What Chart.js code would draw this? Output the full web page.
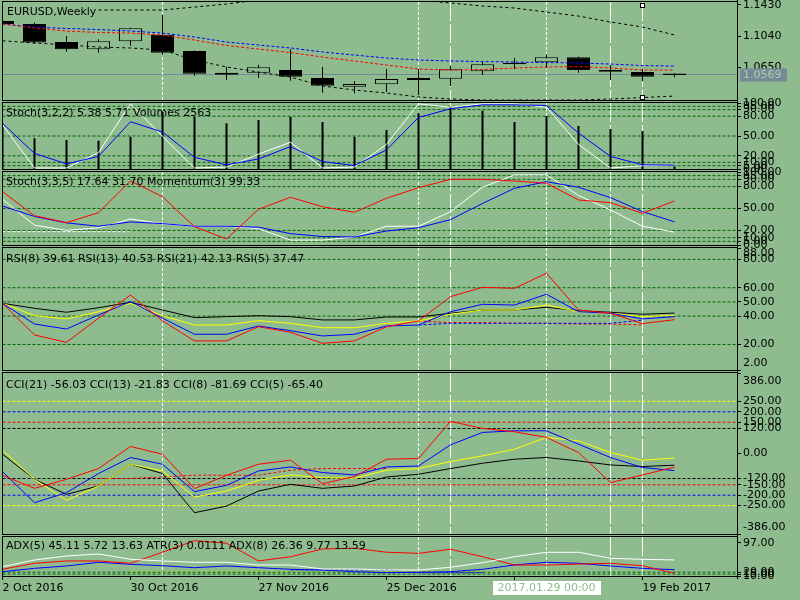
<!DOCTYPE html>
<html><head><meta charset="utf-8">
<script src="https://cdn.jsdelivr.net/npm/chart.js@4.4.1/dist/chart.umd.min.js"></script>
<style>
html,body{margin:0;padding:0;width:800px;height:600px;overflow:hidden;background:#8FBC8F;}
canvas{position:absolute;left:0;}
</style></head><body>
<script>
// ---------------- DATA ----------------
const dates = ['2 Oct 2016','9 Oct 2016','16 Oct 2016','23 Oct 2016','30 Oct 2016','6 Nov 2016','13 Nov 2016','20 Nov 2016','27 Nov 2016','4 Dec 2016','11 Dec 2016','18 Dec 2016','25 Dec 2016','1 Jan 2017','8 Jan 2017','15 Jan 2017','22 Jan 2017','29 Jan 2017','5 Feb 2017','12 Feb 2017','19 Feb 2017','26 Feb 2017'];
const xTickIdx = [0,4,8,12,16,20];

const opens  = [1.1227,1.1190,1.0965,1.0874,1.0974,1.1056,1.0853,1.0583,1.0583,1.0616,1.0517,1.0408,1.0438,1.0517,1.0508,1.0600,1.0687,1.0712,1.0775,1.0616,1.0591,1.0555];
const highs  = [1.1239,1.1206,1.1040,1.0999,1.1143,1.1305,1.0860,1.0657,1.0682,1.0874,1.0654,1.0479,1.0629,1.0633,1.0666,1.0716,1.0762,1.0812,1.0782,1.0675,1.0633,1.0579];
const lows   = [1.1177,1.0944,1.0844,1.0832,1.0919,1.0807,1.0545,1.0492,1.0517,1.0483,1.0334,1.0326,1.0342,1.0305,1.0417,1.0554,1.0629,1.0638,1.0583,1.0492,1.0476,1.0525];
const closes = [1.1190,1.0959,1.0874,1.0974,1.1136,1.0832,1.0570,1.0558,1.0650,1.0533,1.0421,1.0442,1.0504,1.0492,1.0625,1.0687,1.0695,1.0775,1.0616,1.0595,1.0533,1.0569];
const maBlue = [1.1190,1.1152,1.1134,1.1121,1.1102,1.1077,1.1028,1.0965,1.0928,1.0891,1.0841,1.0803,1.0766,1.0741,1.0729,1.0722,1.0716,1.0710,1.0704,1.0691,1.0672,1.0666];
const maRed  = [1.1190,1.1140,1.1102,1.1084,1.1077,1.1052,1.0990,1.0922,1.0878,1.0834,1.0778,1.0729,1.0679,1.0629,1.0616,1.0623,1.0641,1.0654,1.0660,1.0641,1.0616,1.0616];
const bandUpper = [null,null,null,1.1364,1.1364,1.1364,1.1401,1.1439,1.1489,1.1526,1.1526,1.1526,1.1514,1.1489,1.1451,1.1414,1.1389,1.1339,1.1289,1.1215,1.1152,1.1053];
const bandLower = [1.0981,1.0953,1.0928,1.0903,1.0891,1.0866,1.0741,1.0654,1.0591,1.0529,1.0417,1.0367,1.0330,1.0280,1.0255,1.0243,1.0243,1.0243,1.0243,1.0255,1.0273,1.0292];
const priceTicks = [1.1430,1.1040,1.0650];
const bidPrice = 1.0569;

const stoch322Blue  = [69.2,23.6,7.8,19.1,71.6,56.0,17.7,6.3,15.2,33.9,11.2,5.3,28.9,78.1,91.3,97.2,97.2,96.2,54.5,19.1,6.3,5.71];
const stoch322White = [66.7,1.5,1.5,25.0,98.7,49.5,1.5,2.9,22.5,40.6,1.5,2.9,37.3,98.7,93.7,98.7,98.7,93.7,37.3,1.5,4.9,5.38];
const volumes = [45000,32600,30800,30000,34300,60500,55500,48500,52000,55500,49900,34300,41400,59100,66100,61800,49900,56200,45600,42400,40300,2563];

const stoch335Blue  = [53.3,39.1,30.3,25.7,31.6,29.3,25.7,25.7,24.4,15.6,11.6,11.1,19.1,23.6,34.7,56.9,77.7,86.7,79.1,64.9,45.7,31.70];
const stoch335White = [62.7,27.1,20.0,23.6,35.6,29.3,25.7,25.7,22.3,6.7,6.7,11.1,25.7,25.7,45.7,79.1,96.0,96.0,68.0,48.0,25.7,17.64];
const momentum = [100.43,97.57,96.74,97.93,101.70,99.83,96.26,94.80,98.33,99.76,98.64,97.97,99.64,100.90,101.90,101.90,101.70,101.43,99.44,99.12,97.85,99.33];
const stochHLine = [{x:0,y:18.3},{x:3.95,y:18.3}];
const stochLevels = [95,90,80,50,20,10,5];
const stochTicks = [100,95,90,80,50,20,10,5,0];

const rsi5  = [49.0,26.7,21.5,38.5,54.9,36.6,22.5,22.5,32.5,28.6,20.8,22.5,32.5,36.6,53.7,60.3,59.6,70.2,44.3,42.0,34.7,37.47];
const rsi8  = [49.0,34.4,30.9,40.8,50.2,38.5,27.2,27.2,33.0,29.7,26.0,27.2,33.0,33.7,43.1,48.3,47.8,55.4,43.1,42.0,38.0,39.61];
const rsi13 = [49.0,40.3,38.0,43.1,49.0,40.3,33.7,33.7,36.8,34.9,31.8,31.8,34.9,36.6,41.3,44.3,44.3,47.8,43.1,42.0,39.6,40.53];
const rsi21 = [49.0,45.5,42.7,45.9,49.7,44.3,38.9,39.6,40.3,39.6,37.3,37.3,39.4,39.4,42.0,44.3,44.3,46.2,43.8,42.7,41.3,42.13];
const rsiDashBlue = [null,null,null,null,null,null,null,null,null,null,null,null,null,33.7,34.9,34.9,34.9,34.9,34.9,34.9,37.1,null];
const rsiDashRed  = [null,null,null,null,null,null,null,null,null,null,null,null,null,36.6,35.4,35.4,35.0,34.9,34.4,34.4,33.7,null];
const rsiLevels = [80,60,50,40,20];
const rsiTicks = [88,80,60,50,40,20,2];

const cci5  = [-104.4,-167,-123.7,-72.2,33.7,-3.4,-168.4,-104.4,-51.5,-32.2,-144.4,-110.7,-27.4,-24.1,154,120.3,104,77,4.8,-139.6,-103,-65.40];
const cci8  = [-86.6,-235.8,-187.7,-96.2,-19.2,-51.5,-182.9,-152.6,-83.7,-64.5,-91.4,-103,-64.5,-59.7,41.4,101,108.8,108.8,44.8,-19.2,-67.4,-81.69];
const cci13 = [15.9,-123.7,-224.7,-155.9,-51.5,-83.7,-208.9,-180,-128.5,-103,-115.5,-118.9,-80.4,-72.2,-38.5,-11.5,20.7,77,60.6,4.8,-32.2,-21.83];
const cci21 = [-3.4,-123.7,-195.9,-155.9,-51.5,-96.2,-283.9,-252.2,-180,-147.7,-167,-155.9,-112.6,-99.6,-72.2,-46.7,-27.4,-19.2,-35.6,-54.9,-62.6,-56.03];
const cciDashRed = [null,null,null,-120,-120,-112,-104,-104,-104,-80,-72,-72,-72,null,null,null,null,null,null,null,null,null];
const cciLevels = [250,200,150,120,-120,-150,-200,-250];
const cciLevelColors = ['#FFFF00','#0000FF','#FF0000','#000000','#000000','#FF0000','#0000FF','#FFFF00'];
const cciTicks = [386,250,200,150,120,0,-120,-150,-200,-250,-386];

const adx5  = [34.3,51.9,62.3,67.5,53.7,49.2,45.8,45.8,38.8,38.8,28.3,28.3,25.7,25.7,32.8,44.8,60.5,72.0,72.0,56.3,53.7,51.9];
const atr3  = [0.0140,0.0182,0.0199,0.0199,0.0182,0.0261,0.0343,0.0325,0.0199,0.0229,0.0284,0.0289,0.0261,0.0253,0.0282,0.0229,0.0170,0.0170,0.0177,0.0182,0.0165,0.0111];
const adx8  = [21.3,30.1,36.2,45.8,40.6,36.9,31.7,36.2,31.7,27.5,25.7,21.3,18.6,19.7,21.3,27.5,38.8,45.8,43.2,36.2,30.1,26.4];
const adxDashBlue = [null,null,null,null,null,null,null,null,null,25.7,25.7,25.7,25.7,18.6,18.6,18.6,null,null,null,null,null,null];
const adxDashYG   = [null,null,null,null,22.3,22.3,22.3,22.3,22.3,22.3,22.3,22.3,22.3,22.3,22.3,22.3,25.0,27.5,27.5,null,null,null];
const adxLevels = [20,15];
const adxTicks = [97,20,15,10];

const vlineIdx  = [5,13,14,17,19,20];
const vlineLong = [false,false,true,false,true,true];
const crossIdx = 17;
const crossLabel = '2017.01.29 00:00';
const handleIdx = 20;

// ---------------- STYLE / LAYOUT ----------------
const BG = '#8FBC8F';
const FONT = '"DejaVu Sans", sans-serif';
const PAD = 12, XAXIS_H = 24, AXIS_W = 63, LEFT = 2.5, XMAX = 22.953;

function pts(arr){ return arr.map((v,i)=>({x:i,y:v})); }
function line(arr, color, o){ return Object.assign({type:'line', data:pts(arr), borderColor:color, borderWidth:1, pointRadius:0, tension:0, spanGaps:false, order:0, yAxisID:'y'}, o||{}); }
function level(v, color){ return {type:'line', data:[{x:0,y:v},{x:XMAX,y:v}], borderColor:color, borderWidth:1, borderDash:[3,2], pointRadius:0, order:10, yAxisID:'y'}; }

const idx = opens.map((_,i)=>i);
const candleSets = [
  {type:'bar', data: idx.map(i=>({x:i,y:[lows[i],highs[i]]})), backgroundColor:'#000', borderWidth:0, barThickness:1, grouped:false, inflateAmount:0, order:5, clip:0, yAxisID:'y'},
  {type:'bar', data: idx.map(i=>({x:i,y:[opens[i],closes[i]]})), backgroundColor: idx.map(i=>closes[i]<opens[i]?'#000':BG), borderColor:'#000', borderWidth:1, borderSkipped:false, barThickness:23, minBarLength:1.5, grouped:false, inflateAmount:0, order:4, clip:0, yAxisID:'y'}
];

const panes = [
  { top:2, bottom:100, min:1.0243, max:1.1464, ticks:priceTicks, dec:4, label:'EURUSD,Weekly', lx:7, ldy:10, price:true,
    datasets:[
      line(bandUpper,'#000',{borderDash:[3,3]}),
      line(bandLower,'#000',{borderDash:[3,3]}),
      line(maRed,'#FF0000',{borderDash:[3,2]}),
      line(maBlue,'#0000FF',{borderDash:[3,2]}),
      ...candleSets
    ]},
  { top:103, bottom:169, min:0, max:100, ticks:stochTicks, dec:2, label:'Stoch(3,2,2) 5.38 5.71 Volumes 2563', lx:6, ldy:10.5,
    extra:{yVol:{display:false,min:0,max:70000}},
    datasets:[
      ...stochLevels.map(v=>level(v,'#006400')),
      {type:'bar', data:pts(volumes), backgroundColor:'#000', borderWidth:0, barThickness:2, grouped:false, inflateAmount:0, order:5, clip:0, yAxisID:'yVol'},
      line(stoch322White,'#FFFFFF',{order:1}),
      line(stoch322Blue,'#0000FF')
    ]},
  { top:172, bottom:245, min:0, max:100, ticks:stochTicks, dec:2, label:'Stoch(3,3,5) 17.64 31.70 Momentum(3) 99.33', lx:6, ldy:10.5,
    extra:{yMom:{display:false,min:94.08,max:102.77}},
    datasets:[
      ...stochLevels.map(v=>level(v,'#006400')),
      {type:'line', data:stochHLine, borderColor:'#FFFFFF', borderWidth:1, borderDash:[3,2], pointRadius:0, order:3, yAxisID:'y'},
      line(stoch335White,'#FFFFFF',{order:2}),
      line(stoch335Blue,'#0000FF',{order:1}),
      line(momentum,'#FF0000',{yAxisID:'yMom'})
    ]},
  { top:248, bottom:370, min:2, max:88, ticks:rsiTicks, dec:2, label:'RSI(8) 39.61 RSI(13) 40.53 RSI(21) 42.13 RSI(5) 37.47', lx:6, ldy:11,
    inset:[5,7],
    datasets:[
      ...rsiLevels.map(v=>level(v,'#006400')),
      line(rsiDashBlue,'#0000FF',{borderDash:[3,2],order:6}),
      line(rsiDashRed,'#FF0000',{borderDash:[3,2],order:6}),
      line(rsi21,'#000000',{order:3}),
      line(rsi13,'#FFFF00',{order:2}),
      line(rsi8,'#0000FF',{order:1}),
      line(rsi5,'#FF0000')
    ]},
  { top:373, bottom:534, min:-386, max:386, ticks:cciTicks, dec:2, label:'CCI(21) -56.03 CCI(13) -21.83 CCI(8) -81.69 CCI(5) -65.40', lx:6, ldy:12,
    inset:[8,7],
    datasets:[
      ...cciLevels.map((v,i)=>level(v,cciLevelColors[i])),
      line(cciDashRed,'#FF0000',{borderDash:[3,2],order:6}),
      line(cci21,'#000000',{order:3}),
      line(cci13,'#FFFF00',{order:2}),
      line(cci8,'#0000FF',{order:1}),
      line(cci5,'#FF0000')
    ]},
  { top:537, bottom:576, min:10, max:112, ticks:adxTicks, dec:2, label:'ADX(5) 45.11 5.72 13.63 ATR(3) 0.0111 ADX(8) 26.36 9.77 13.59', lx:6, ldy:9, showX:true, cross:true,
    extra:{yAtr:{display:false,min:0.0092,max:0.0369}},
    datasets:[
      ...adxLevels.map(v=>level(v,'#006400')),
      line(adxDashYG,'#9ACD32',{borderDash:[3,2],order:6}),
      line(adxDashBlue,'#0000FF',{borderDash:[3,2],order:6}),
      line(adx8,'#0000FF',{order:2}),
      line(atr3,'#FF0000',{order:1,yAxisID:'yAtr'}),
      line(adx5,'#FFFFFF')
    ]}
];

function makePane(p){
  const last = !!p.showX;
  const h = (p.bottom - p.top) + PAD + (last ? XAXIS_H : PAD);
  const cv = document.createElement('canvas');
  cv.width = 800; cv.height = h;
  cv.style.top = (p.top - PAD) + 'px';
  cv.style.width = '800px'; cv.style.height = h + 'px';
  document.body.appendChild(cv);

  const scales = Object.assign({
    x: { type:'linear', min:0, max:XMAX, offset:false, display:last,
         afterBuildTicks: s => { s.ticks = xTickIdx.map(v=>({value:v})); },
         afterFit: s => { s.height = last ? XAXIS_H : 0; },
         grid: { drawOnChartArea:false, drawTicks:true, tickLength:4, color:'#000', tickColor:'#000' },
         border: { display:false },
         ticks: { autoSkip:false, maxRotation:0, minRotation:0, align:'start', padding:2, color:'#000',
                  font:{family:FONT, size:11}, callback: v => dates[v] } },
    y: { type:'linear', position:'right', min:p.min, max:p.max,
         afterFit: s => { s.width = AXIS_W; },
         afterBuildTicks: s => { s.ticks = p.ticks.map(v=>({value:v})); },
         grid: { drawOnChartArea:false, drawTicks:true, tickLength:4, color:'#000', tickColor:'#000' },
         border: { display:true, color:'#000', width:1 },
         ticks: { autoSkip:false, padding:2, color:'#000', font:{family:FONT, size:11},
                  callback: v => Number(v).toFixed(p.dec) } }
  }, p.extra || {});

  const plugin = {
    id:'pane'+p.top,
    beforeDraw(chart){
      if (!p.inset) return;
      const s = chart.scales.y;
      if (!s.getLabelItems) return;
      const items = s.getLabelItems(chart.chartArea);
      const topLbl = Number(p.max).toFixed(p.dec), botLbl = Number(p.min).toFixed(p.dec);
      items.forEach(it => {
        const tr = it.options && it.options.translation;
        if (!tr) return;
        if (it.label === topLbl) tr[1] += p.inset[0];
        else if (it.label === botLbl) tr[1] -= p.inset[1];
      });
    },
    beforeDatasetsDraw(chart){
      const {ctx, chartArea:a, scales:{x, y}} = chart;
      ctx.save();
      ctx.beginPath(); ctx.rect(a.left, a.top, a.right-a.left, a.bottom-a.top); ctx.clip();
      if (p.price){
        const yb = Math.round(y.getPixelForValue(bidPrice)) + 0.5;
        ctx.strokeStyle = '#778899'; ctx.lineWidth = 1; ctx.setLineDash([]);
        ctx.beginPath(); ctx.moveTo(a.left, yb); ctx.lineTo(a.right, yb); ctx.stroke();
      }
      ctx.strokeStyle = '#FFFFFF'; ctx.lineWidth = 1;
      vlineIdx.forEach((vi,k)=>{
        const xp = Math.round(x.getPixelForValue(vi) - 0.5) + 0.5;
        ctx.setLineDash(vlineLong[k] ? [19,3] : [3,2]);
        ctx.beginPath(); ctx.moveTo(xp, a.top); ctx.lineTo(xp, a.bottom); ctx.stroke();
      });
      ctx.restore();
    },
    afterDatasetsDraw(chart){
      const {ctx, chartArea:a} = chart;
      ctx.save();
      ctx.font = '11px ' + FONT; ctx.fillStyle = '#000'; ctx.textBaseline = 'middle'; ctx.textAlign = 'left';
      ctx.fillText(p.label, p.lx, a.top + p.ldy);
      ctx.restore();
    },
    afterDraw(chart){
      const {ctx, chartArea:a, scales:{x, y}} = chart;
      ctx.save();
      ctx.strokeStyle = '#000'; ctx.lineWidth = 1; ctx.setLineDash([]);
      ctx.beginPath();
      ctx.moveTo(2, a.top - 0.5); ctx.lineTo(a.right + 1, a.top - 0.5);
      ctx.moveTo(2, a.bottom + 0.5); ctx.lineTo(a.right + 1, a.bottom + 0.5);
      ctx.moveTo(2.5, a.top - 1); ctx.lineTo(2.5, a.bottom + 1);
      ctx.moveTo(a.right + 0.5, a.top - 3); ctx.lineTo(a.right + 0.5, a.bottom + 3);
      ctx.stroke();
      if (p.price){
        const yb = Math.round(y.getPixelForValue(bidPrice)) + 0.5;
        ctx.fillStyle = '#778899';
        ctx.fillRect(a.right + 3, yb - 6, 47, 13);
        ctx.font = '11px ' + FONT; ctx.fillStyle = '#A9CFA9'; ctx.textBaseline = 'middle'; ctx.textAlign = 'left';
        ctx.fillText(bidPrice.toFixed(4), a.right + 6, yb + 0.5);
        const hx = Math.round(x.getPixelForValue(handleIdx) - 0.5);
        [a.top + 3, a.bottom - 3].forEach(hy => {
          ctx.fillStyle = '#000'; ctx.fillRect(hx - 2, Math.round(hy) - 2, 5, 5);
          ctx.fillStyle = '#FFF'; ctx.fillRect(hx - 1, Math.round(hy) - 1, 3, 3);
        });
      }
      if (p.cross){
        const cx = x.getPixelForValue(crossIdx);
        ctx.fillStyle = '#FFFFFF';
        ctx.fillRect(Math.round(cx - 54), a.bottom + 5, 108, 14);
        ctx.font = '11px ' + FONT; ctx.fillStyle = '#8FBC8F'; ctx.textBaseline = 'middle'; ctx.textAlign = 'center';
        ctx.fillText(crossLabel, cx, a.bottom + 12.5);
      }
      ctx.restore();
    }
  };

  new Chart(cv, {
    type:'line',
    data:{ datasets:p.datasets },
    options:{
      responsive:false, animation:false, devicePixelRatio:1, events:[],
      layout:{ padding:{ left:LEFT, right:0, top:PAD, bottom: last ? 0 : PAD } },
      plugins:{ legend:{display:false}, tooltip:{enabled:false}, title:{display:false} },
      scales
    },
    plugins:[plugin]
  });
}
panes.forEach(makePane);
</script>
</body></html>
